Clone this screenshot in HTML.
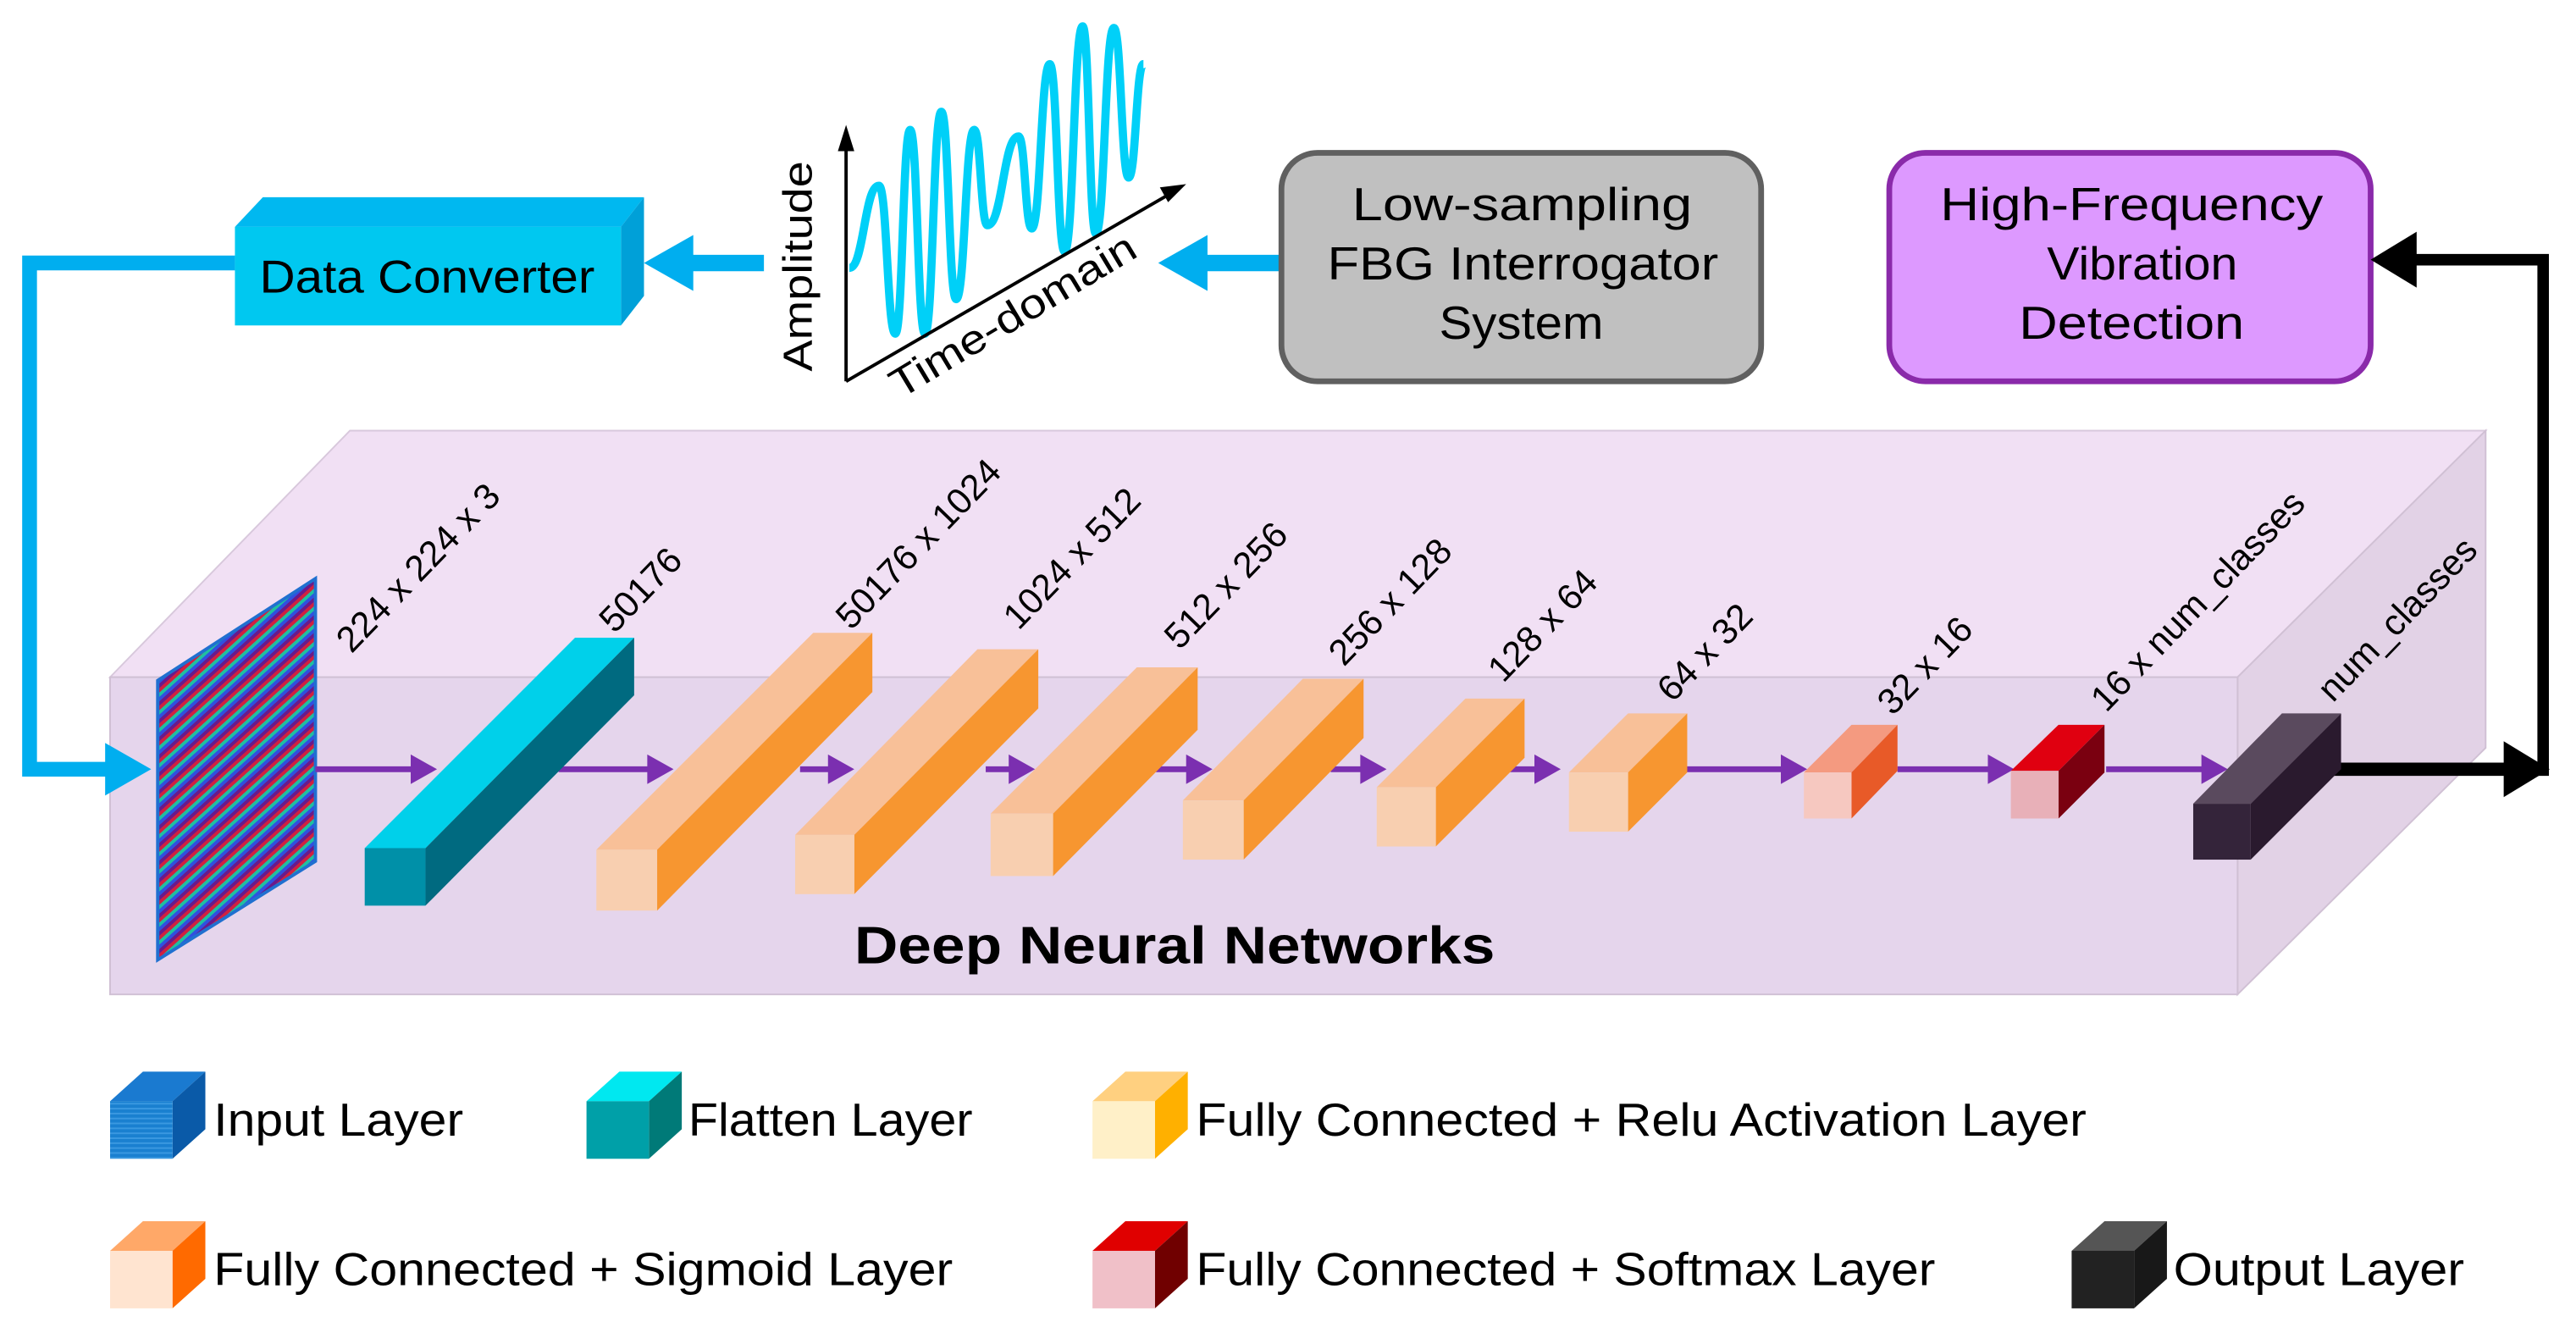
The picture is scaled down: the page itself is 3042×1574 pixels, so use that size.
<!DOCTYPE html>
<html><head><meta charset="utf-8"><style>html,body{margin:0;padding:0;background:#fff}svg{display:block}</style></head>
<body>
<svg xmlns="http://www.w3.org/2000/svg" width="3042" height="1574" viewBox="0 0 1568 811" preserveAspectRatio="none" font-family="Liberation Sans, sans-serif">
<defs>
<pattern id="stripes" patternUnits="userSpaceOnUse" width="8" height="8" patternTransform="rotate(-42)">
<rect x="0" y="0" width="8" height="2" fill="#d02040"/><rect x="0" y="2" width="8" height="2" fill="#20c0a0"/><rect x="0" y="4" width="8" height="2" fill="#3050e0"/><rect x="0" y="6" width="8" height="2" fill="#6a1a8a"/>
</pattern>
<pattern id="lstripes" patternUnits="userSpaceOnUse" width="3" height="3"><rect width="3" height="3" fill="#1a80d0"/><rect y="2" width="3" height="1" fill="#3a98e0"/></pattern>
</defs>

<polygon points="67,412 213,262 1513,262 1362,412" fill="#f1e0f4" stroke="#d8c8dc" stroke-width="1"/>
<polygon points="1362,412 1513,262 1513,455 1362,605" fill="#e2d2e6" stroke="#d0c0d4" stroke-width="1"/>
<rect x="67" y="412" width="1295" height="193" fill="#e5d5ec" stroke="#d0c0d4" stroke-width="1"/>
<text x="520" y="586" font-size="32" font-weight="bold" fill="#000" textLength="390" lengthAdjust="spacingAndGlyphs">Deep Neural Networks</text>

<polyline points="143,160 18,160 18,468 70,468" fill="none" stroke="#00aeef" stroke-width="9"/>
<polygon points="64,452 92,468 64,484" fill="#00aeef"/>
<line x1="465" y1="160" x2="420" y2="160" stroke="#00aeef" stroke-width="10"/>
<polygon points="392,160 422,143 422,177" fill="#00aeef"/>
<line x1="780" y1="160" x2="732" y2="160" stroke="#00aeef" stroke-width="10"/>
<polygon points="705,160 735,143 735,177" fill="#00aeef"/>

<polygon points="143,138 160,120 392,120 378,138" fill="#00b8f0"/>
<polygon points="378,138 392,120 392,180 378,198" fill="#00a0d8"/>
<rect x="143" y="138" width="235" height="60" fill="#00c8f0"/>
<text x="158" y="178" font-size="28" fill="#000" textLength="204" lengthAdjust="spacingAndGlyphs">Data Converter</text>

<path d="M517,163 C526,163 526,113 535,113 C540,113 540,203 545,203 C549.5,203 549.5,79 554,79 C558.5,79 558.5,203 563,203 C568,203 568,68 573,68 C577.5,68 577.5,182 582,182 C587.5,182 587.5,79 593,79 C597,79 597,137 601,137 C610.5,137 610.5,83 620,83 C624,83 624,139 628,139 C633.5,139 633.5,39 639,39 C643.5,39 643.5,153 648,153 C653.5,153 653.5,16 659,16 C663,16 663,142 667,142 C672.5,142 672.5,17 678,17 C682.5,17 682.5,108 687,108 C691.5,108 691.5,39 696,39" fill="none" stroke="#00d0f8" stroke-width="5"/>
<line x1="515" y1="232" x2="515" y2="86" stroke="#000" stroke-width="2"/>
<polygon points="515,76 510,92 520,92" fill="#000"/>
<line x1="515" y1="232" x2="712" y2="118" stroke="#000" stroke-width="2"/>
<polygon points="722,112 706,114 711,123" fill="#000"/>
<text transform="translate(494,226) rotate(-90)" font-size="25" fill="#000" textLength="128" lengthAdjust="spacingAndGlyphs">Amplitude</text>
<text transform="translate(548,243) rotate(-31)" font-size="25" fill="#000" textLength="170" lengthAdjust="spacingAndGlyphs">Time-domain</text>

<rect x="780" y="93" width="292" height="139" rx="22" fill="#c0c0c0" stroke="#606060" stroke-width="3.5"/>
<g font-size="28" fill="#000">
<text x="823" y="134" textLength="207" lengthAdjust="spacingAndGlyphs">Low-sampling</text>
<text x="808" y="170" textLength="238" lengthAdjust="spacingAndGlyphs">FBG Interrogator</text>
<text x="876" y="206" textLength="100" lengthAdjust="spacingAndGlyphs">System</text>
</g>

<rect x="1150" y="93" width="293" height="139" rx="22" fill="#dd99ff" stroke="#8a2aaa" stroke-width="3.5"/>
<g font-size="28" fill="#000">
<text x="1181" y="134" textLength="233" lengthAdjust="spacingAndGlyphs">High-Frequency</text>
<text x="1246" y="170" textLength="116" lengthAdjust="spacingAndGlyphs">Vibration</text>
<text x="1229" y="206" textLength="137" lengthAdjust="spacingAndGlyphs">Detection</text>
</g>

<line x1="1420" y1="468" x2="1528" y2="468" stroke="#000" stroke-width="8"/>
<polygon points="1552,468 1524,451 1524,485" fill="#000"/>
<polyline points="1548,472 1548,158 1470,158" fill="none" stroke="#000" stroke-width="7"/>
<polygon points="1443,158 1471,141 1471,175" fill="#000"/>

<polygon points="96,414 192,352 192,524 96,584" fill="url(#stripes)" stroke="#2070d0" stroke-width="2"/>

<g stroke="#7b2fb0" stroke-width="3.5" fill="#7b2fb0">
<line x1="192" y1="468" x2="252" y2="468"/><polygon points="266,468 250,459 250,477" stroke="none"/>
<line x1="340" y1="468" x2="396" y2="468"/><polygon points="410,468 394,459 394,477" stroke="none"/>
<line x1="487" y1="468" x2="506" y2="468"/><polygon points="520,468 504,459 504,477" stroke="none"/>
<line x1="600" y1="468" x2="616" y2="468"/><polygon points="630,468 614,459 614,477" stroke="none"/>
<line x1="703" y1="468" x2="724" y2="468"/><polygon points="738,468 722,459 722,477" stroke="none"/>
<line x1="810" y1="468" x2="830" y2="468"/><polygon points="844,468 828,459 828,477" stroke="none"/>
<line x1="915" y1="468" x2="936" y2="468"/><polygon points="950,468 934,459 934,477" stroke="none"/>
<line x1="1025" y1="468" x2="1086" y2="468"/><polygon points="1100,468 1084,459 1084,477" stroke="none"/>
<line x1="1155" y1="468" x2="1212" y2="468"/><polygon points="1226,468 1210,459 1210,477" stroke="none"/>
<line x1="1282" y1="468" x2="1342" y2="468"/><polygon points="1356,468 1340,459 1340,477" stroke="none"/>
</g>

<polygon points="222,516 350,388 386,388 259,516" fill="#00d0ea"/>
<polygon points="259,516 386,388 386,423 259,551" fill="#006a80"/>
<rect x="222" y="516" width="37" height="35" fill="#0090a8"/>

<g>
<polygon points="363,517 495,385 531,385 400,517" fill="#f8c098"/>
<polygon points="400,517 531,385 531,421 400,554" fill="#f79630"/>
<rect x="363" y="517" width="37" height="37" fill="#f8cfb0"/>
<polygon points="484,508 595,395 632,395 520,508" fill="#f8c098"/>
<polygon points="520,508 632,395 632,431 520,544" fill="#f79630"/>
<rect x="484" y="508" width="36" height="36" fill="#f8cfb0"/>
<polygon points="603,495 692,406 729,406 641,495" fill="#f8c098"/>
<polygon points="641,495 729,406 729,444 641,533" fill="#f79630"/>
<rect x="603" y="495" width="38" height="38" fill="#f8cfb0"/>
<polygon points="720,487 793,413 830,413 757,487" fill="#f8c098"/>
<polygon points="757,487 830,413 830,449 757,523" fill="#f79630"/>
<rect x="720" y="487" width="37" height="36" fill="#f8cfb0"/>
<polygon points="838,479 892,425 928,425 874,479" fill="#f8c098"/>
<polygon points="874,479 928,425 928,461 874,515" fill="#f79630"/>
<rect x="838" y="479" width="36" height="36" fill="#f8cfb0"/>
<polygon points="955,470 991,434 1027,434 991,470" fill="#f8c098"/>
<polygon points="991,470 1027,434 1027,470 991,506" fill="#f79630"/>
<rect x="955" y="470" width="36" height="36" fill="#f8cfb0"/>
<polygon points="1098,470 1127,441 1155,441 1127,470" fill="#f49a80"/>
<polygon points="1127,470 1155,441 1155,469 1127,498" fill="#e85a28"/>
<rect x="1098" y="470" width="29" height="28" fill="#f6c8c0"/>
<polygon points="1224,469 1253,441 1281,441 1253,469" fill="#e00010"/>
<polygon points="1253,469 1281,441 1281,470 1253,498" fill="#7a0010"/>
<rect x="1224" y="469" width="29" height="29" fill="#e8b0b8"/>
<polygon points="1335,489 1389,434 1425,434 1370,489" fill="#5a4a5e"/>
<polygon points="1370,489 1425,434 1425,468 1370,523" fill="#2a1a2e"/>
<rect x="1335" y="489" width="35" height="34" fill="#34243a"/>
</g>

<g font-size="22" fill="#000">
<text transform="translate(214,398) rotate(-46)">224 x 224 x 3</text>
<text transform="translate(374,386) rotate(-46)">50176</text>
<text transform="translate(518,384) rotate(-46)">50176 x 1024</text>
<text transform="translate(620,384) rotate(-46)">1024 x 512</text>
<text transform="translate(718,396) rotate(-46)">512 x 256</text>
<text transform="translate(818,406) rotate(-46)">256 x 128</text>
<text transform="translate(915,416) rotate(-46)">128 x 64</text>
<text transform="translate(1018,428) rotate(-46)">64 x 32</text>
<text transform="translate(1152,436) rotate(-46)">32 x 16</text>
<text transform="translate(1282,434) rotate(-46)">16 x num_classes</text>
<text transform="translate(1420,428) rotate(-46)">num_classes</text>
</g>

<g font-size="28" fill="#000">
<polygon points="67,670 87,652 125,652 105,670" fill="#1a7ad0"/>
<polygon points="105,670 125,652 125,687 105,705" fill="#0a5aa8"/>
<rect x="67" y="670" width="38" height="35" fill="url(#lstripes)"/>
<text x="130" y="691" textLength="152" lengthAdjust="spacingAndGlyphs">Input Layer</text>

<polygon points="357,670 377,652 415,652 395,670" fill="#00e8f0"/>
<polygon points="395,670 415,652 415,687 395,705" fill="#007a78"/>
<rect x="357" y="670" width="38" height="35" fill="#00a0a8"/>
<text x="419" y="691" textLength="173" lengthAdjust="spacingAndGlyphs">Flatten Layer</text>

<polygon points="665,670 685,652 723,652 703,670" fill="#ffd080"/>
<polygon points="703,670 723,652 723,687 703,705" fill="#ffb000"/>
<rect x="665" y="670" width="38" height="35" fill="#fff0c8"/>
<text x="728" y="691" textLength="542" lengthAdjust="spacingAndGlyphs">Fully Connected + Relu Activation Layer</text>

<polygon points="67,761 87,743 125,743 105,761" fill="#ffa868"/>
<polygon points="105,761 125,743 125,778 105,796" fill="#ff6a00"/>
<rect x="67" y="761" width="38" height="35" fill="#ffe4d0"/>
<text x="130" y="782" textLength="450" lengthAdjust="spacingAndGlyphs">Fully Connected + Sigmoid Layer</text>

<polygon points="665,761 685,743 723,743 703,761" fill="#e00000"/>
<polygon points="703,761 723,743 723,778 703,796" fill="#700000"/>
<rect x="665" y="761" width="38" height="35" fill="#f0c0c8"/>
<text x="728" y="782" textLength="450" lengthAdjust="spacingAndGlyphs">Fully Connected + Softmax Layer</text>

<polygon points="1261,761 1281,743 1319,743 1299,761" fill="#555"/>
<polygon points="1299,761 1319,743 1319,778 1299,796" fill="#181818"/>
<rect x="1261" y="761" width="38" height="35" fill="#222"/>
<text x="1323" y="782" textLength="177" lengthAdjust="spacingAndGlyphs">Output Layer</text>
</g>
</svg>
</body></html>
